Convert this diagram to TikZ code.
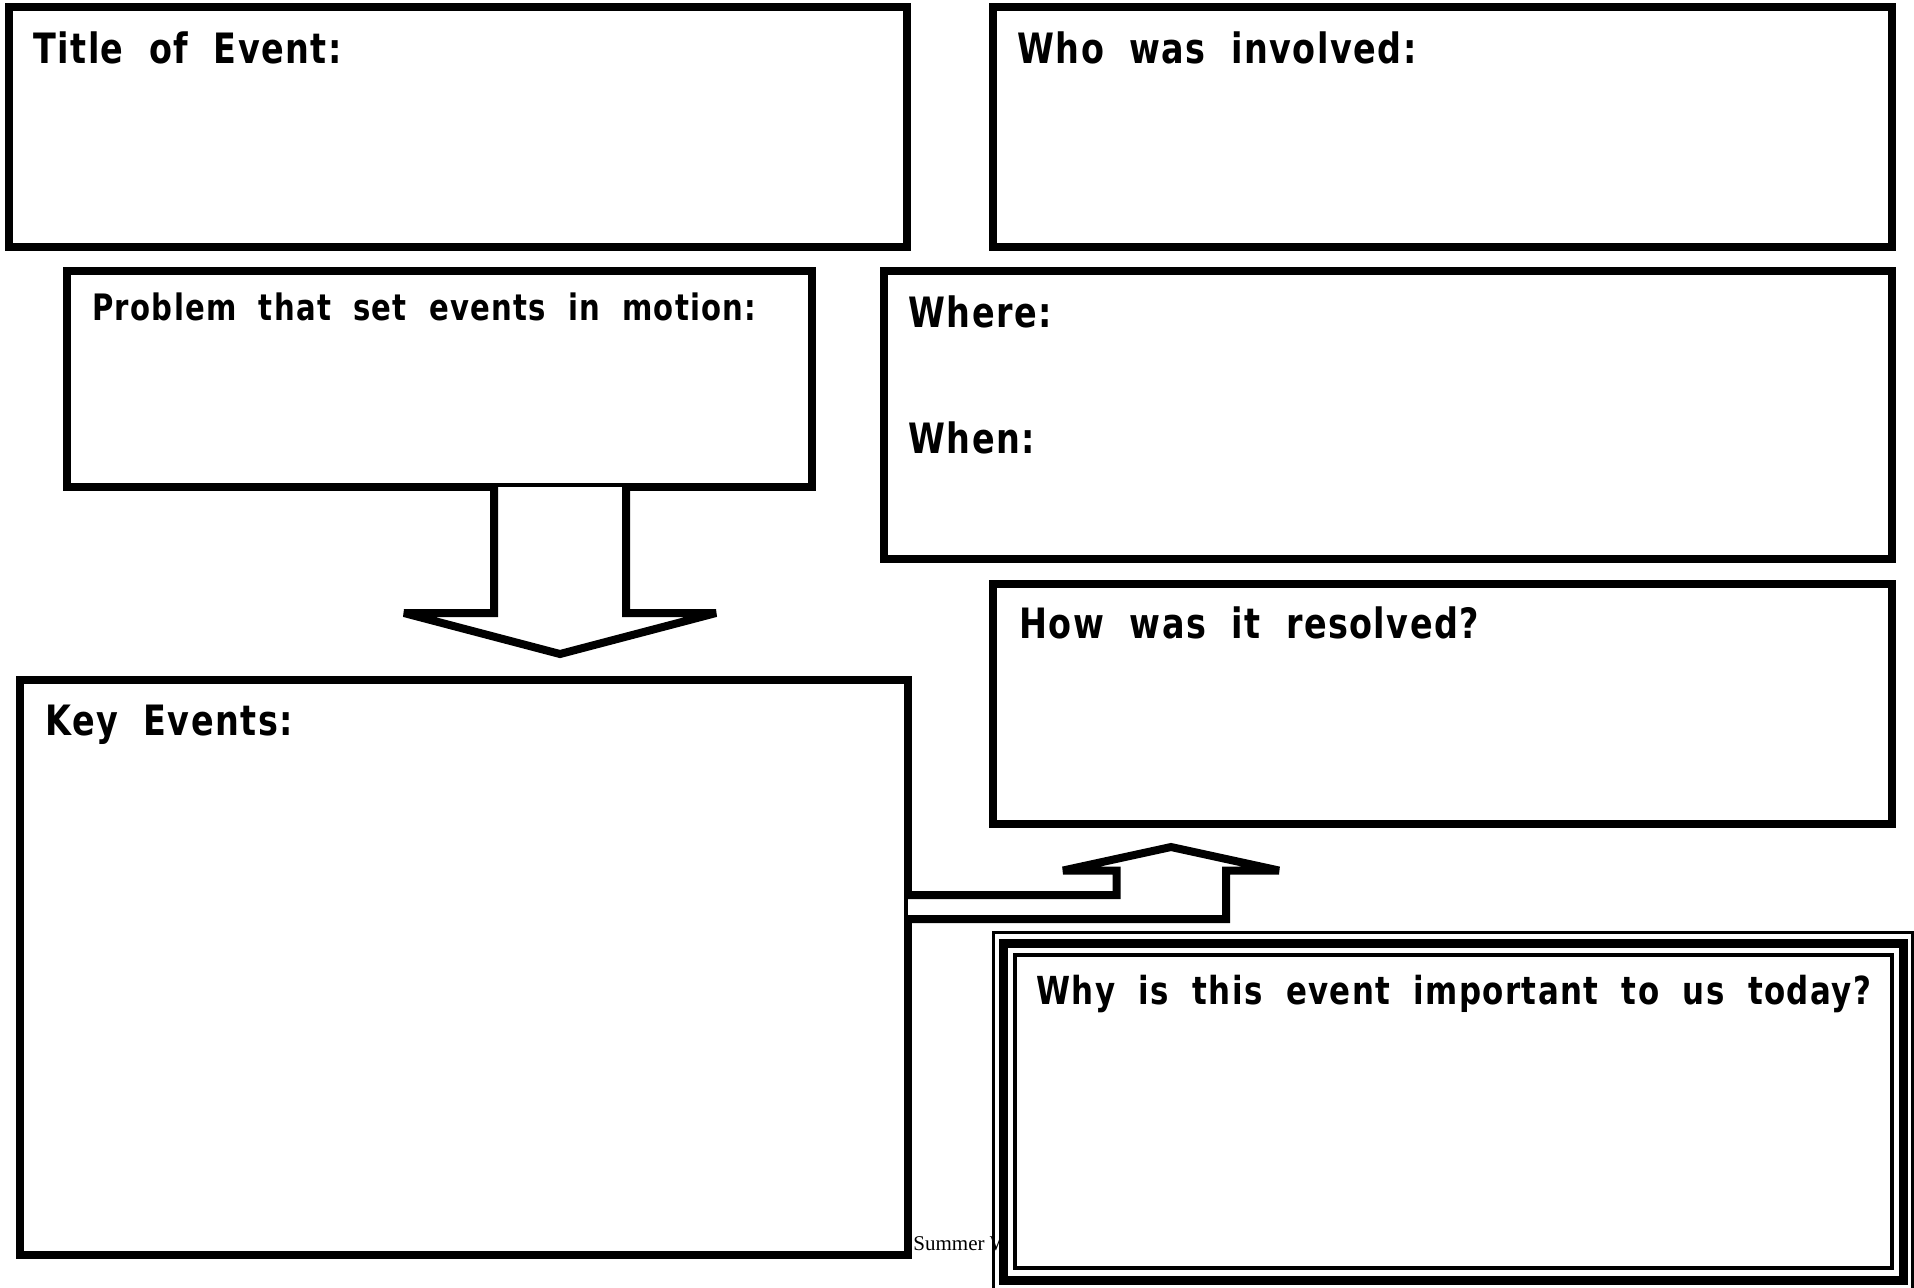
\documentclass[tikz,border=0pt]{standalone}
\usepackage{fontspec}
\setmainfont{DejaVu Sans}[FakeStretch=0.8,LetterSpace=3.5,WordSpace=1.95]
\newfontfamily\serifnote{Liberation Serif}
\begin{document}
\begin{tikzpicture}[x=0.5pt,y=-0.5pt,
  box/.style={draw=black,line width=4pt,fill=white},
  arrowshape/.style={draw=black,line width=4pt,fill=white,line join=miter,miter limit=2},
  lbl/.style={anchor=base west,inner sep=0pt,font=\fontsize{20.9pt}{24pt}\selectfont\bfseries},
  lblsmall/.style={anchor=base west,inner sep=0pt,font=\fontsize{18.2pt}{21pt}\selectfont\bfseries},
  lblwhy/.style={anchor=base west,inner sep=0pt,font=\fontsize{19.3pt}{22pt}\selectfont\bfseries}]
\useasboundingbox (0,0) rectangle (1914,1287);
\fill[white] (0,0) rectangle (1914,1287);
% boxes
\draw[box] (9,7) rectangle (907,247);
\draw[box] (993,7) rectangle (1892,247);
\draw[box] (67,271) rectangle (812,487);
\draw[box] (884,271) rectangle (1892,559);
\draw[box] (993,584) rectangle (1892,824);
\draw[box] (20,680) rectangle (908,1255);
% named points
\coordinate (probL) at (494,487);
\coordinate (probR) at (626,487);
\coordinate (keyU) at (908,895);
\coordinate (keyD) at (908,919);
% down arrow
\draw[arrowshape] (probL) -- (494,613) -- (404,613) -- (560,654) -- (716,613) -- (626,613) -- (probR);
% bent arrow
\draw[arrowshape] (keyU) -- (1116.5,895) -- (1116.5,870.5) -- (1063,870.5) -- (1171,847) -- (1279,870.5) -- (1226,870.5) -- (1226,919) -- (keyD);
% footer text
\node[anchor=base west,inner sep=0pt,font=\serifnote\fontsize{10.5pt}{12pt}\selectfont] (foot) at (913,1250) {Summer Work};
% why frame
\draw[line width=1.5pt] (993,932) rectangle (1912.5,1295);
\draw[line width=4.5pt,fill=white] (1003.5,943.5) rectangle (1903,1280);
\draw[line width=2pt] (1015,954.5) rectangle (1892,1268);
% labels
\node[lbl] (t1) at (33,63) {Title of Event:};
\node[lbl] (t2) at (1017,63) {Who was involved:};
\node[lblsmall] (t3) at (92,320) {Problem that set events in motion:};
\node[lbl] (t4) at (908,327) {Where:};
\node[lbl] (t5) at (908,453) {When:};
\node[lbl] (t6) at (1019,638) {How was it resolved?};
\node[lbl] (t7) at (45,735) {Key Events:};
\node[lblwhy] (t8) at (1036,1004) {Why is this event important to us today?};
\end{tikzpicture}
\end{document}
